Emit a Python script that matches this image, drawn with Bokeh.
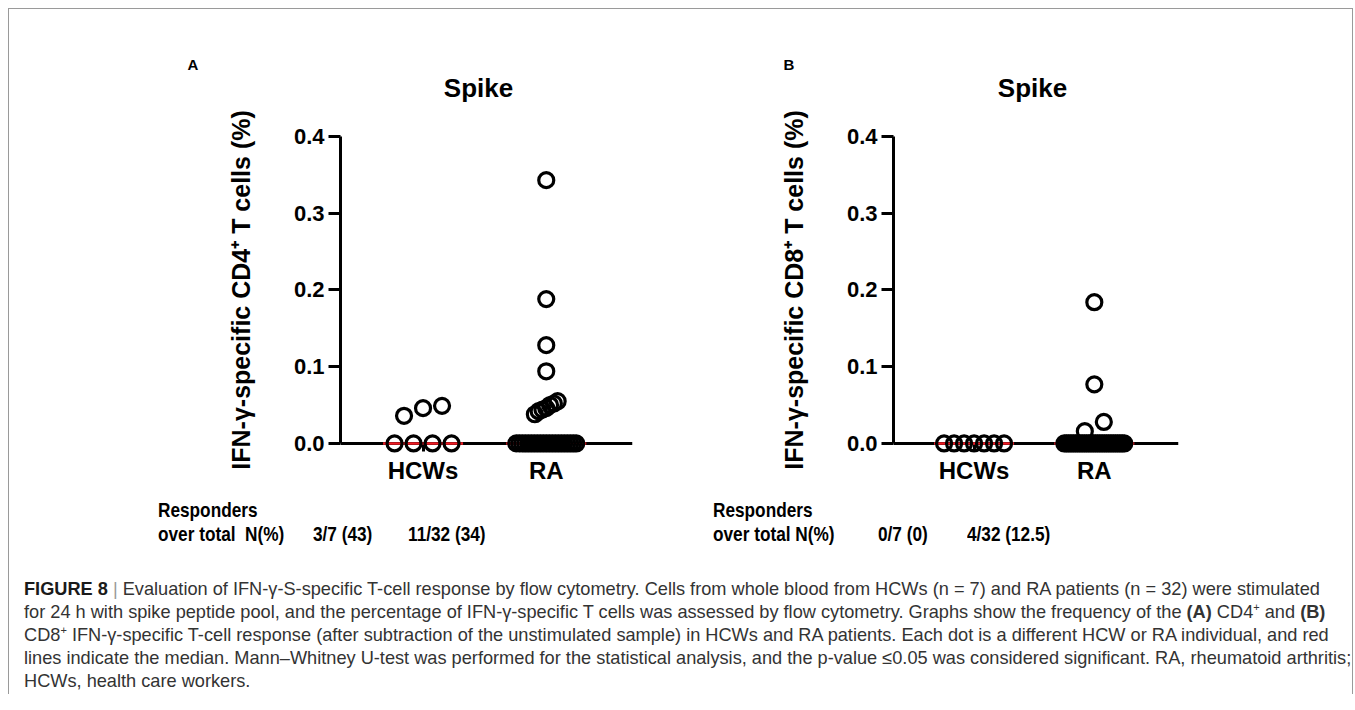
import numpy as np
from bokeh.plotting import figure
from bokeh.models import FixedTicker, PrintfTickFormatter, Div
from bokeh.core.properties import value
from bokeh.layouts import column, row
from bokeh.embed import file_html
from bokeh.resources import INLINE

# ---------------- data ----------------
groups = ["HCWs", "RA"]
group_pos = [1, 2]

cd4_hcws = [0.0, 0.0, 0.0, 0.0, 0.036, 0.046, 0.049]
cd4_ra = [0.343, 0.188, 0.128, 0.094, 0.055, 0.052, 0.050, 0.046, 0.044, 0.042, 0.038,
          0.0, 0.0, 0.0, 0.0, 0.0, 0.0, 0.0, 0.0, 0.0, 0.0, 0.0,
          0.0, 0.0, 0.0, 0.0, 0.0, 0.0, 0.0, 0.0, 0.0, 0.0]
cd8_hcws = [0.0, 0.0, 0.0, 0.0, 0.0, 0.0, 0.0]
cd8_ra = [0.184, 0.077, 0.028, 0.016,
          0.0, 0.0, 0.0, 0.0, 0.0, 0.0, 0.0, 0.0, 0.0, 0.0, 0.0, 0.0, 0.0, 0.0,
          0.0, 0.0, 0.0, 0.0, 0.0, 0.0, 0.0, 0.0, 0.0, 0.0, 0.0, 0.0, 0.0, 0.0]

y_ticks = [0.0, 0.1, 0.2, 0.3, 0.4]
panel_letters = ["A", "B"]
panel_titles = ["Spike", "Spike"]
y_labels = ["IFN-\u03b3-specific CD4\u207a T cells (%)",
            "IFN-\u03b3-specific CD8\u207a T cells (%)"]
resp_head = ["Responders", "over total\u00a0\u00a0N(%)", "over total N(%)"]
resp_cd4 = ["3/7 (43)", "11/32 (34)"]
resp_cd8 = ["0/7 (0)", "4/32 (12.5)"]

SUP = "<sup style='font-size:11px;line-height:0;vertical-align:7px'>+</sup>"
caption_lines = [
    "<b style='color:#1a1a1a'>FIGURE 8</b> <span style='color:#999'>|</span> Evaluation of IFN-\u03b3-S-specific T-cell response by flow cytometry. Cells from whole blood from HCWs (n = 7) and RA patients (n = 32) were stimulated",
    "for 24 h with spike peptide pool, and the percentage of IFN-\u03b3-specific T cells was assessed by flow cytometry. Graphs show the frequency of the <b>(A)</b> CD4" + SUP + " and <b>(B)</b>",
    "CD8" + SUP + " IFN-\u03b3-specific T-cell response (after subtraction of the unstimulated sample) in HCWs and RA patients. Each dot is a different HCW or RA individual, and red",
    "lines indicate the median. Mann\u2013Whitney U-test was performed for the statistical analysis, and the p-value \u22640.05 was considered significant. RA, rheumatoid arthritis;",
    "HCWs, health care workers.",
]

FONT = "Liberation Sans"
X_RANGE = (0.33, 2.70)
Y_RANGE = (-0.06, 0.478)
FRAME_H = 413
TOP = 67
BOTTOM = 5
DIAM = 19.0


def swarm_offsets(vals, px_per_x, px_per_y, diam=DIAM, tie_span=60.0):
    vals = np.asarray(vals, float)
    offs = np.zeros(len(vals))
    uniq, counts = np.unique(vals, return_counts=True)
    tied = set(u for u, c in zip(uniq, counts) if c > 1)
    for u in tied:
        idx = np.where(vals == u)[0]
        n = len(idx)
        sp = min(diam, tie_span / (n - 1))
        offs[idx] = (np.arange(n) - (n - 1) / 2) * sp
    rest = [i for i in np.argsort(vals, kind="stable") if vals[i] not in tied]
    bins, cur = [], []
    for i in rest:
        if cur and (vals[i] - vals[cur[0]]) * px_per_y >= diam:
            bins.append(cur)
            cur = []
        cur.append(i)
    if cur:
        bins.append(cur)
    for b in bins:
        n = len(b)
        if n == 1:
            continue
        sp = diam if n <= 3 else diam * 1.2 / (n - 1)
        for k, i in enumerate(b):
            offs[i] = (k - (n - 1) / 2) * sp
    return offs / px_per_x


def make_panel(letter, title, ylabel, data, width, left, frame_w, letter_off, title_dx):
    height = TOP + FRAME_H + BOTTOM
    p = figure(width=width, height=height, x_range=X_RANGE, y_range=Y_RANGE,
               output_backend="svg", toolbar_location=None,
               min_border_left=left, min_border_right=width - left - frame_w,
               min_border_top=TOP, min_border_bottom=BOTTOM)
    p.outline_line_color = None
    p.grid.visible = False
    p.background_fill_color = "white"
    p.border_fill_color = "white"

    px_per_x = frame_w / (X_RANGE[1] - X_RANGE[0])
    px_per_y = FRAME_H / (Y_RANGE[1] - Y_RANGE[0])

    # panel letter
    p.title.text = letter
    p.title.align = "left"
    p.title.offset = letter_off
    p.title.text_font = FONT
    p.title.text_font_style = "bold"
    p.title.text_font_size = "15px"
    p.title.text_color = "black"
    p.title.standoff = 8

    # panel title, placed just above the top of the y axis
    p.text(x=[X_RANGE[0] + title_dx / px_per_x], y=[y_ticks[-1] + 48 / px_per_y],
           text=[title], text_font=value(FONT), text_font_style="bold",
           text_font_size="26px", text_color="black",
           text_align="center", text_baseline="middle")

    yax = p.yaxis[0]
    yax.bounds = (y_ticks[0], y_ticks[-1])
    yax.ticker = FixedTicker(ticks=y_ticks)
    yax.formatter = PrintfTickFormatter(format="%.1f")
    yax.axis_line_width = 3
    yax.major_tick_line_width = 3
    yax.major_tick_out = 12
    yax.major_tick_in = 0
    yax.minor_tick_line_color = None
    yax.major_label_text_font = FONT
    yax.major_label_text_font_style = "bold"
    yax.major_label_text_font_size = "22px"
    yax.major_label_text_color = "black"
    yax.major_label_standoff = 4
    yax.axis_label = ylabel + "\u00a0\u00a0"
    yax.axis_label_text_font = FONT
    yax.axis_label_text_font_style = "bold"
    yax.axis_label_text_font_size = "25px"
    yax.axis_label_text_color = "black"
    yax.axis_label_standoff = 36

    xax = p.xaxis[0]
    xax.fixed_location = 0
    xax.ticker = FixedTicker(ticks=group_pos)
    xax.major_label_overrides = {pos: g for pos, g in zip(group_pos, groups)}
    xax.axis_line_width = 3
    xax.major_tick_line_width = 3
    xax.major_tick_out = 8
    xax.major_tick_in = 0
    xax.minor_tick_line_color = None
    xax.major_label_text_font = FONT
    xax.major_label_text_font_style = "bold"
    xax.major_label_text_font_size = "24px"
    xax.major_label_text_color = "black"
    xax.major_label_standoff = 6

    half = 40.0 / px_per_x
    for xc, vals in zip(group_pos, data):
        med = float(np.median(vals))
        p.segment(x0=[xc - half], y0=[med], x1=[xc + half], y1=[med],
                  line_color="#ee1c25", line_width=2.5, level="overlay")
        offs = swarm_offsets(vals, px_per_x, px_per_y)
        p.scatter(x=xc + offs, y=vals, size=15, marker="circle",
                  fill_color=None, line_color="black", line_width=3.2,
                  level="overlay")
    return p


pa = make_panel(panel_letters[0], panel_titles[0], y_labels[0], [cd4_hcws, cd4_ra],
                width=671, left=331, frame_w=292, letter_off=-153, title_dx=138)
pb = make_panel(panel_letters[1], panel_titles[1], y_labels[1], [cd8_hcws, cd8_ra],
                width=672, left=213, frame_w=285, letter_off=-110, title_dx=139)


def span(txt, left, top):
    return (f"<span style='position:absolute;left:{left}px;top:{top}px;"
            f"white-space:nowrap;transform:scaleX(0.82);transform-origin:0 50%'>{txt}</span>")


FIG_H = TOP + FRAME_H + BOTTOM
RESP_H = 685 - FIG_H - 139
dy = 510 - 12 - (9 + FIG_H)
resp_html = ("<div style=\"position:relative;width:1343px;height:%dpx;"
             "font-family:'Liberation Sans',Arial,sans-serif;"
             "font-weight:bold;font-size:21px;line-height:24px;color:#000\">" % RESP_H
             + span(resp_head[0], 149, dy) + span(resp_head[1], 149, dy + 24)
             + span(resp_cd4[0], 304, dy + 24) + span(resp_cd4[1], 399, dy + 24)
             + span(resp_head[0], 704, dy) + span(resp_head[2], 704, dy + 24)
             + span(resp_cd8[0], 869, dy + 24) + span(resp_cd8[1], 958, dy + 24)
             + "</div>")
resp = Div(text=resp_html, width=1343, height=RESP_H, margin=(0, 0, 0, 0))

cap_html = ("<div style=\"padding:23px 0 0 15px;font-family:'Liberation Sans',Arial,sans-serif;"
            "font-size:18.2px;line-height:23px;color:#333;white-space:nowrap\">"
            + "<br>".join(caption_lines) + "</div>")
cap = Div(text=cap_html, width=1343, height=139, margin=(0, 0, 0, 0))

layout = column(row(pa, pb), resp, cap, margin=(8, 0, 0, 8),
                styles={"border-left": "1px solid #9a9a9a",
                        "border-top": "1px solid #9a9a9a",
                        "border-right": "1px solid #9a9a9a"})

open("out.html", "w").write(file_html(layout, INLINE))
